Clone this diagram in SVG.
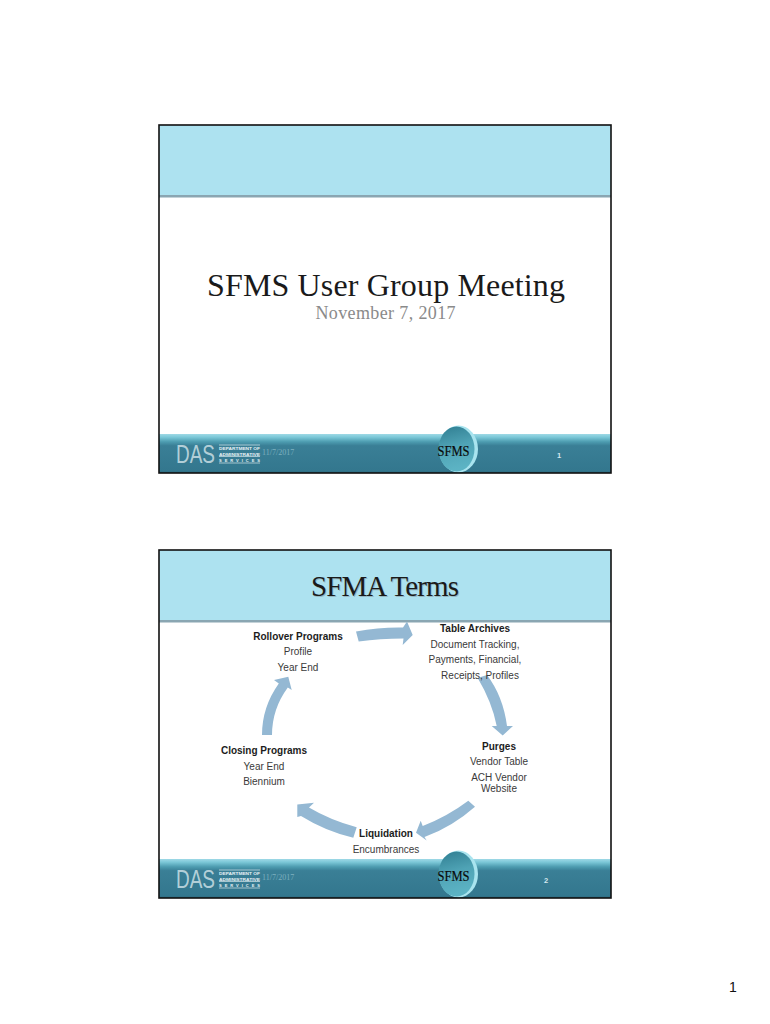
<svg xmlns="http://www.w3.org/2000/svg" width="770" height="1024" viewBox="0 0 770 1024">
<style>
.sans{font-family:"Liberation Sans",Arial,sans-serif}
.serif{font-family:"Liberation Serif","Times New Roman",serif}
.lab{font-size:10px;fill:#3a3a3a;text-anchor:middle;font-family:"Liberation Sans",Arial,sans-serif}
.b{font-weight:bold;fill:#1c1c1c}
.arrow{fill:#94b8d3}
.head{fill:#ade2f0}
.frame{fill:none;stroke:#111;stroke-width:1.6}
.sfms{font-family:"Liberation Serif",serif;font-size:15px;fill:#0a0a0a;stroke:#0a0a0a;stroke-width:.2}
.dept{font-family:"Liberation Sans",sans-serif;font-size:4px;font-weight:bold;fill:#e8f2f5}
.rule{stroke:#d5e6eb;stroke-width:.7}
.date{font-family:"Liberation Serif",serif;font-size:8px;fill:#7db0bf}
.das{font-family:"Liberation Sans",sans-serif;font-size:25px;fill:#d5e6eb;fill-opacity:.8}
.pg{font-family:"Liberation Sans",sans-serif;font-size:7.5px;font-weight:bold;fill:#d5e8ee;text-anchor:middle}
</style>
<defs>
<linearGradient id="foot" x1="0" y1="0" x2="0" y2="1">
<stop offset="0" stop-color="#9fd9e6"/><stop offset=".08" stop-color="#7cc8d8"/><stop offset=".2" stop-color="#4d9cb0"/><stop offset=".3" stop-color="#3a7f96"/><stop offset=".95" stop-color="#33778e"/><stop offset="1" stop-color="#2a6070"/>
</linearGradient>
<linearGradient id="ball" x1="0" y1="0" x2=".2" y2="1">
<stop offset="0" stop-color="#2f7d91"/><stop offset=".5" stop-color="#4fa3b5"/><stop offset="1" stop-color="#5cb3c4"/>
</linearGradient>
</defs>
<rect width="770" height="1024" fill="#fff"/>
<g id="slide1">
<rect x="159" y="125" width="452" height="348" fill="#fff"/>
<rect x="159" y="125" width="452" height="70" class="head"/>
<rect x="159" y="195" width="452" height="2.500" fill="#8aa6b2"/>
<text class="serif" x="386" y="296" font-size="32" text-anchor="middle" fill="#1a1a1a" textLength="358">SFMS User Group Meeting</text>
<text class="serif" x="385.500" y="319" font-size="18" text-anchor="middle" fill="#8a8a8a" textLength="140">November 7, 2017</text>
<g id="footer1">
<rect x="159" y="434" width="452" height="39" fill="url(#foot)"/>
<text class="das" transform="translate(176 463) scale(.76 1)">DAS</text>
<path class="rule" d="M219 445H260M219 456.500H260M219 463H260"/>
<text class="dept" x="219" y="449.500" textLength="41" lengthAdjust="spacingAndGlyphs">DEPARTMENT OF</text>
<text class="dept" x="219" y="455.500" textLength="41" lengthAdjust="spacingAndGlyphs">ADMINISTRATIVE</text>
<text class="dept" x="219" y="461.500" textLength="41">SERVICES</text>
<text class="date" x="262" y="455">11/7/2017</text>
<ellipse cx="458.500" cy="449" rx="19.500" ry="23.500" fill="#a9e4ef"/>
<ellipse cx="456.500" cy="449" rx="18" ry="22.500" fill="url(#ball)"/>
<text class="sfms" x="437.500" y="456" textLength="32" lengthAdjust="spacingAndGlyphs">SFMS</text>
<text class="pg" x="559" y="458">1</text>
</g>
<rect x="159" y="125" width="452" height="348" class="frame"/>
</g>
<g id="slide2">
<rect x="159" y="550" width="452" height="348" fill="#fff"/>
<rect x="159" y="550" width="452" height="70" class="head"/>
<rect x="159" y="620" width="452" height="2.500" fill="#8aa6b2"/>
<text class="serif" x="386" y="597" font-size="29" text-anchor="middle" fill="#7d8f96" opacity=".5" textLength="148">SFMA Terms</text>
<text class="serif" x="385" y="596" font-size="29" text-anchor="middle" fill="#1a1a1a" textLength="148">SFMA Terms</text>
<g id="connectors">
<path class="arrow" d="M356 631.500Q380 627 403 627.500L407 621.500L412.700 635L402.700 645L403.500 638.500Q380 638.500 358.700 641.500Z"/>
<path class="arrow" d="M477.700 678L487 675Q503 696 507 726L513 726L502.700 735.500L491.700 726L496.700 726Q492 702 477.700 678Z"/>
<path class="arrow" d="M468.300 800.700L475 806.700Q452 827 424.500 837L426.700 840.500L416 832.700L420.700 820.700L422.700 826Q448 816 468.300 800.700Z"/>
<path class="arrow" d="M356.700 827.300L353.300 837.800Q325 831 301 816L297.300 817L297.300 804.500L314 802.700L309 807.500Q330 820 356.700 827.300Z"/>
<path class="arrow" d="M262 735L272 735Q272 709 287.800 687.500L291.700 690L288.300 676.700L274 680L278.800 683.500Q262 707 262 735Z"/>
</g>
<g id="rollover"><text class="lab b" x="298" y="640">Rollover Programs</text><text class="lab" x="298" y="655">Profile</text><text class="lab" x="298" y="671">Year End</text></g>
<g id="table-archives"><text class="lab b" x="475" y="632">Table Archives</text><text class="lab" x="475" y="648">Document Tracking,</text><text class="lab" x="475" y="663">Payments, Financial,</text><text class="lab" x="480" y="679">Receipts, Profiles</text></g>
<g id="purges"><text class="lab b" x="499" y="750">Purges</text><text class="lab" x="499" y="765">Vendor Table</text><text class="lab" x="499" y="781">ACH Vendor</text><text class="lab" x="499" y="792">Website</text></g>
<g id="liquidation"><text class="lab b" x="386" y="837">Liquidation</text><text class="lab" x="386" y="853">Encumbrances</text></g>
<g id="closing"><text class="lab b" x="264" y="754">Closing Programs</text><text class="lab" x="264" y="770">Year End</text><text class="lab" x="264" y="785">Biennium</text></g>
<g id="footer2">
<rect x="159" y="859" width="452" height="39" fill="url(#foot)"/>
<text class="das" transform="translate(176 888) scale(.76 1)">DAS</text>
<path class="rule" d="M219 870H260M219 881.500H260M219 888H260"/>
<text class="dept" x="219" y="874.500" textLength="41" lengthAdjust="spacingAndGlyphs">DEPARTMENT OF</text>
<text class="dept" x="219" y="880.500" textLength="41" lengthAdjust="spacingAndGlyphs">ADMINISTRATIVE</text>
<text class="dept" x="219" y="886.500" textLength="41">SERVICES</text>
<text class="date" x="262" y="880">11/7/2017</text>
<ellipse cx="458.500" cy="874" rx="19.500" ry="23.500" fill="#a9e4ef"/>
<ellipse cx="456.500" cy="874" rx="18" ry="22.500" fill="url(#ball)"/>
<text class="sfms" x="437.500" y="881" textLength="32" lengthAdjust="spacingAndGlyphs">SFMS</text>
<text class="pg" x="546" y="883">2</text>
</g>
<rect x="159" y="550" width="452" height="348" class="frame"/>
</g>
<text id="page-number" class="sans" x="733" y="992" font-size="14" text-anchor="middle" fill="#111">1</text>
</svg>
